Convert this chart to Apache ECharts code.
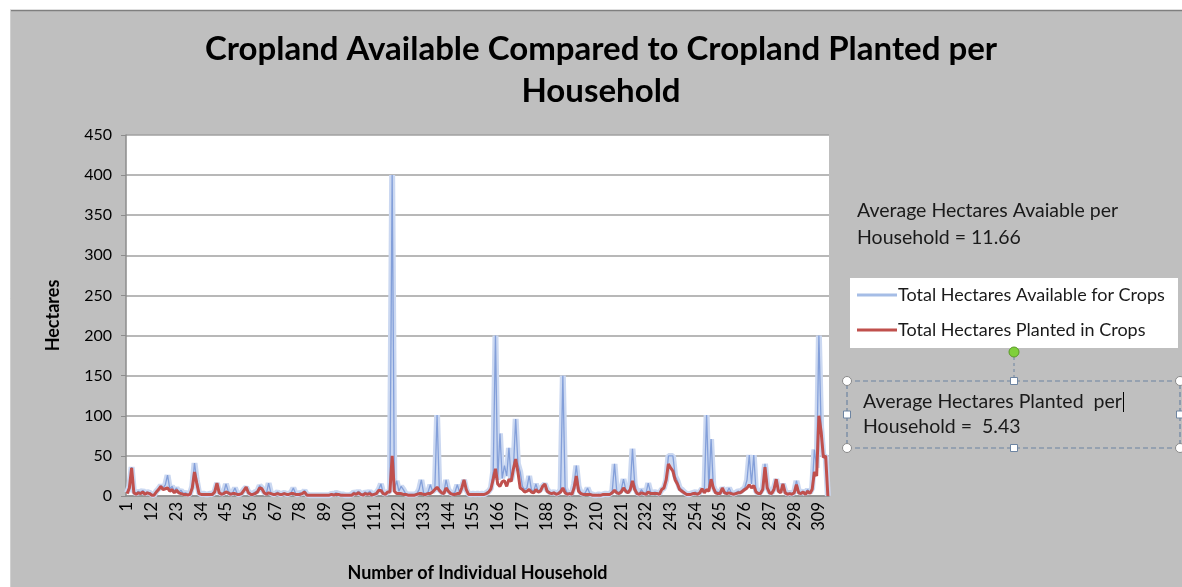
<!DOCTYPE html>
<html><head><meta charset="utf-8">
<script src="https://cdn.jsdelivr.net/npm/echarts@6/dist/echarts.min.js"></script>
<style>html,body{margin:0;padding:0;background:#fff}#c{width:1182px;height:587px}</style>
</head><body><div id="c"></div>
<script>
const households = Array.from({length: 313}, (_, i) => String(i + 1));
const available = [
 4,12,36,6,3,6,4,7,3,5, 4,2,1,6,9,13,10,14,26,9, 12,6,10,5,7,3,4,2,3,12,
 41,20,4,2,3,2,2,3,2,6, 16,5,3,4,15,6,3,4,10,3, 2,4,8,11,5,3,3,5,6,13,
 10,5,3,16,4,2,3,5,2,3, 4,2,3,4,10,3,2,4,3,7, 2,1,1,1,1,1,1,1,1,1,
 1,3,2,4,3,2,2,1,1,1, 2,5,3,6,3,2,5,3,6,2, 3,4,8,15,4,3,5,6,400,8,
 19,6,12,8,3,2,2,2,2,3, 8,20,4,3,5,14,6,8,101,8, 5,4,20,8,4,3,5,14,5,10,
 20,8,3,2,3,2,3,2,3,2, 4,6,10,31,200,20,78,22,38,25, 60,20,35,96,40,30,12,8,10,25,
 8,6,15,6,8,12,15,8,5,4, 5,3,4,8,150,10,3,4,3,15, 38,12,4,3,4,10,3,2,1,1,
 2,1,2,3,2,3,6,40,6,4, 8,21,8,5,10,59,15,4,3,8, 4,3,16,5,4,5,4,3,8,10,
 20,50,50,50,25,19,10,8,5,3, 2,3,4,5,3,5,9,6,101,10, 71,12,6,5,4,10,6,4,10,4,
 3,4,6,5,8,10,20,51,15,51, 6,4,5,10,40,12,5,4,10,21, 8,6,15,6,3,4,3,5,19,6,
 4,6,3,8,4,10,58,35,200,85, 50,50,0
];
const planted = [
 3,10,35,4,2,4,3,5,2,4, 3,1,1,5,8,12,8,9,10,6, 8,4,7,4,3,2,2,1,2,10,
 30,16,3,2,2,2,2,2,2,5, 16,4,2,3,5,4,2,3,3,2, 2,3,7,11,4,2,2,3,5,10,
 9,4,2,4,3,2,2,3,2,2, 3,2,2,3,3,2,2,2,3,5, 1,1,1,1,1,1,1,1,1,1,
 1,2,1,2,2,1,1,1,1,1, 1,3,2,4,2,1,3,2,3,1, 2,3,7,7,3,2,5,5,50,6,
 3,3,3,2,2,1,1,1,1,2, 3,3,2,2,3,3,5,8,11,7, 4,3,10,6,3,2,2,3,3,10,
 20,8,2,2,2,2,2,2,2,2, 3,5,9,21,34,15,12,18,19,12, 21,18,34,46,30,10,8,5,6,8,
 5,4,8,5,6,12,15,6,4,3, 4,2,3,5,10,4,2,3,2,10, 25,6,3,2,2,2,2,1,1,1,
 1,1,2,2,2,2,4,7,4,3, 5,10,6,4,8,19,8,3,2,4, 3,2,5,3,3,3,3,2,8,10,
 20,40,35,31,20,15,8,6,4,2, 2,2,3,3,2,4,9,4,8,6, 21,10,4,3,3,10,4,3,4,3,
 2,3,4,4,6,8,10,14,10,13, 5,3,3,8,36,10,4,3,8,21, 6,4,15,4,2,3,2,4,14,4,
 3,5,2,6,3,8,30,25,100,80, 48,50,0
];
const yTicks = {min: 0, max: 450, step: 50};
const seriesNames = ['Total Hectares Available for Crops', 'Total Hectares Planted in Crops'];
const titleLines = ['Cropland Available Compared to Cropland Planted per', 'Household'];
const noteAvailable = ['Average Hectares Avaiable per', 'Household = 11.66'];
const notePlanted = ['Average Hectares Planted  per', 'Household =  5.43'];

const chart = echarts.init(document.getElementById('c'), null, {renderer: 'canvas'});
const FONT = 'Lato, "Open Sans", sans-serif';
const boxX = 847, boxY = 381, boxW = 333, boxH = 67;
chart.setOption({
  animation: false,
  backgroundColor: '#bfbfbf',
  textStyle: {fontFamily: FONT},
  grid: {left: 126, right: 353, top: 135, bottom: 90, show: true, backgroundColor: '#ffffff', borderWidth: 0},
  xAxis: {
    type: 'category', data: households, boundaryGap: true,
    name: 'Number of Individual Household', nameLocation: 'middle', nameGap: 68,
    nameTextStyle: {fontSize: 18, fontWeight: 'bold', color: '#000', fontFamily: FONT},
    axisLine: {lineStyle: {color: '#8c8c8c', width: 1.5}},
    axisTick: {show: false},
    axisLabel: {interval: 10, rotate: 90, fontSize: 16.5, color: '#000', margin: 6, fontFamily: FONT}
  },
  yAxis: {
    type: 'value', min: yTicks.min, max: yTicks.max, interval: yTicks.step,
    name: 'Hectares', nameLocation: 'middle', nameGap: 64, nameRotate: 90,
    nameTextStyle: {fontSize: 18, fontWeight: 'bold', color: '#000', fontFamily: FONT},
    axisLine: {show: true, lineStyle: {color: '#8c8c8c', width: 1.5}},
    axisTick: {show: true, length: 5, lineStyle: {color: '#8c8c8c'}},
    axisLabel: {fontSize: 16, color: '#000', margin: 14, fontFamily: FONT},
    splitLine: {lineStyle: {color: '#a0a0a0', width: 1.5}}
  },
  legend: {
    left: 857, top: 284, orient: 'vertical', itemWidth: 40, itemHeight: 3, itemGap: 13,
    padding: 0,
    textStyle: {fontSize: 18, color: '#1a1a1a', fontFamily: FONT, padding: [0, 0, 0, -4], lineHeight: 22},
    data: [
      {name: seriesNames[0], icon: 'rect', itemStyle: {color: '#a5bde6'}},
      {name: seriesNames[1], icon: 'rect', itemStyle: {color: '#c0504d'}}
    ]
  },
  series: [
    {name: 'glow', type: 'line', data: available, symbol: 'none', silent: true,
     lineStyle: {color: '#cbd8f1', width: 6}, z: 1},
    {name: seriesNames[0], type: 'line', data: available, symbol: 'none',
     lineStyle: {color: '#839fd9', width: 1.3}, itemStyle: {color: '#a5bde6'}, z: 2},
    {name: seriesNames[1], type: 'line', data: planted, symbol: 'none',
     lineStyle: {color: '#c0504d', width: 3}, itemStyle: {color: '#c0504d'}, z: 3}
  ],
  graphic: [
    {type: 'rect', shape: {x: 0, y: 0, width: 1182, height: 10}, style: {fill: '#ffffff'}, z: 0},
    {type: 'rect', shape: {x: 0, y: 0, width: 10, height: 587}, style: {fill: '#ffffff'}, z: 0},
    {type: 'line', shape: {x1: 10, y1: 10.5, x2: 1182, y2: 10.5}, style: {stroke: '#7f7f7f', lineWidth: 1.5}},
    {type: 'line', shape: {x1: 10.5, y1: 10, x2: 10.5, y2: 587}, style: {stroke: '#d0d0d0', lineWidth: 1}},
    {type: 'text', style: {text: titleLines[0], x: 601, y: 49, align: 'center', verticalAlign: 'middle',
      font: 'bold 33px ' + FONT, fill: '#000'}},
    {type: 'text', style: {text: titleLines[1], x: 601, y: 91, align: 'center', verticalAlign: 'middle',
      font: 'bold 33px ' + FONT, fill: '#000'}},
    {type: 'text', style: {text: noteAvailable[0], x: 857, y: 211, verticalAlign: 'middle',
      font: '19.5px ' + FONT, fill: '#1a1a1a'}},
    {type: 'text', style: {text: noteAvailable[1], x: 857, y: 238, verticalAlign: 'middle',
      font: '19.5px ' + FONT, fill: '#1a1a1a'}},
    {type: 'rect', shape: {x: 850, y: 278, width: 328, height: 70}, style: {fill: '#ffffff'}, z: -1},
    {type: 'rect', shape: {x: boxX, y: boxY, width: boxW, height: boxH},
      style: {fill: 'none', stroke: '#6d84a1', lineWidth: 1.2, lineDash: [5, 3]}},
    {type: 'line', shape: {x1: 1014, y1: 357, x2: 1014, y2: 378}, style: {stroke: '#6d84a1', lineWidth: 1, lineDash: [3, 3]}},
    {type: 'circle', shape: {cx: 1014, cy: 352, r: 5}, style: {fill: '#7fd03a', stroke: '#5c9a2a', lineWidth: 1}},
    {type: 'circle', shape: {cx: boxX, cy: boxY, r: 4.5}, style: {fill: '#fff', stroke: '#8a8a8a'}},
    {type: 'circle', shape: {cx: boxX + boxW, cy: boxY, r: 4.5}, style: {fill: '#fff', stroke: '#8a8a8a'}},
    {type: 'circle', shape: {cx: boxX, cy: boxY + boxH, r: 4.5}, style: {fill: '#fff', stroke: '#8a8a8a'}},
    {type: 'circle', shape: {cx: boxX + boxW, cy: boxY + boxH, r: 4.5}, style: {fill: '#fff', stroke: '#8a8a8a'}},
    {type: 'rect', shape: {x: 1010.5, y: boxY - 3.5, width: 7, height: 7}, style: {fill: '#fff', stroke: '#6d84a1'}},
    {type: 'rect', shape: {x: 1010.5, y: boxY + boxH - 3.5, width: 7, height: 7}, style: {fill: '#fff', stroke: '#6d84a1'}},
    {type: 'rect', shape: {x: boxX - 3.5, y: 411, width: 7, height: 7}, style: {fill: '#fff', stroke: '#6d84a1'}},
    {type: 'rect', shape: {x: boxX + boxW - 3.5, y: 411, width: 7, height: 7}, style: {fill: '#fff', stroke: '#6d84a1'}},
    {type: 'text', style: {text: notePlanted[0], x: 863, y: 402, verticalAlign: 'middle',
      font: '19.5px ' + FONT, fill: '#1a1a1a'}},
    {type: 'text', style: {text: notePlanted[1], x: 863, y: 427, verticalAlign: 'middle',
      font: '19.5px ' + FONT, fill: '#1a1a1a'}},
    {type: 'line', shape: {x1: 1123.5, y1: 392, x2: 1123.5, y2: 412}, style: {stroke: '#000', lineWidth: 1}}
  ]
});
</script></body></html>
